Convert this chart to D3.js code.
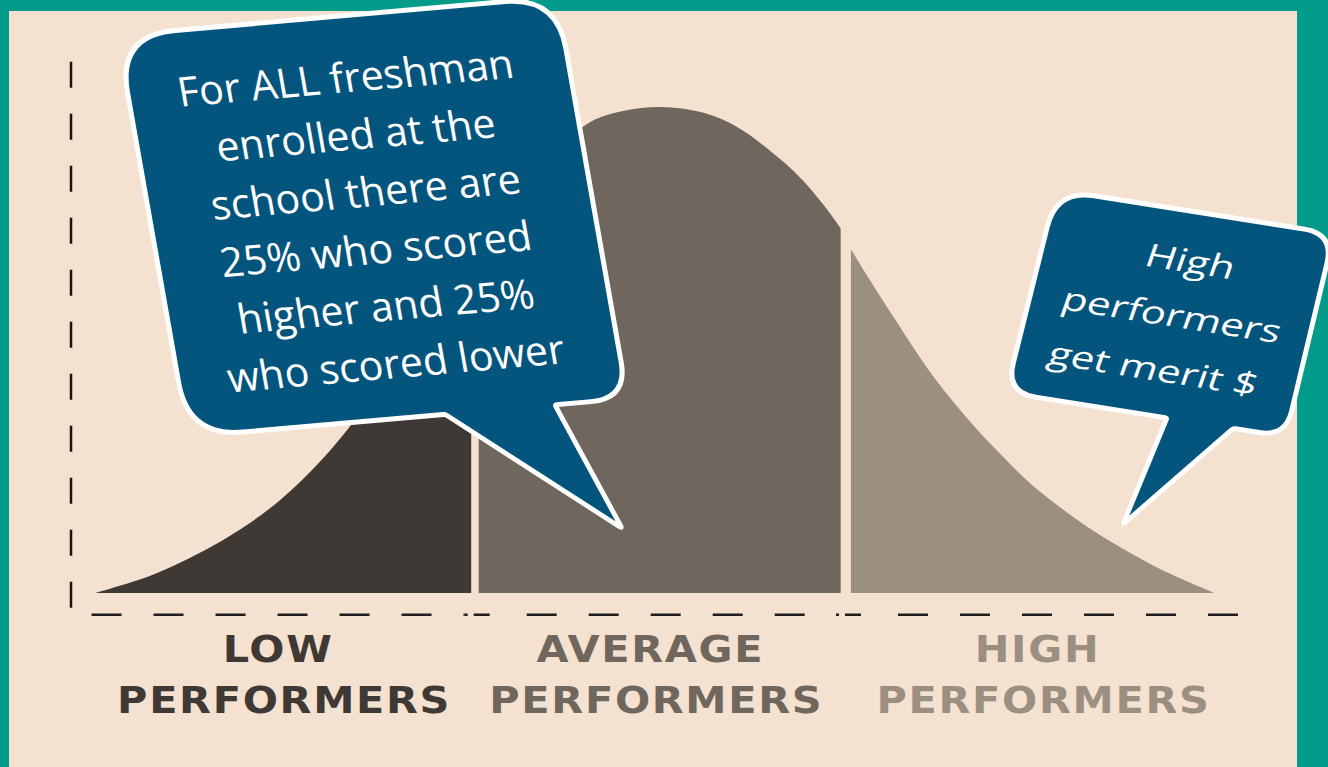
<!DOCTYPE html>
<html>
<head>
<meta charset="utf-8">
<script src="https://cdn.jsdelivr.net/npm/d3@7"></script>
<style>
  body { margin: 0; background: #029a89; }
  svg { display: block; }
</style>
</head>
<body>
<div id="chart"></div>
<script>
// bell curve: score (in std units) and relative height
const scoreZ  = [-3.0, -2.722, -2.546, -2.369, -2.187, -2.01, -1.833, -1.651, -1.42, -1.20, -0.98, -0.80, -0.55, -0.36, -0.19, 0.03,
                 0.26, 0.44, 0.61, 0.79, 0.99, 1.05, 1.29, 1.47, 1.65, 1.83, 2.01, 2.19, 2.37, 2.55, 2.72, 3.0];
const density = [0, 0.033, 0.062, 0.097, 0.140, 0.191, 0.255, 0.335, 0.46, 0.58, 0.70, 0.79, 0.90, 0.966, 0.99, 1.0,
                 0.988, 0.959, 0.912, 0.85, 0.753, 0.708, 0.561, 0.457, 0.37, 0.294, 0.226, 0.171, 0.123, 0.082, 0.047, 0];

// the three filled pieces
const segNames  = ['LOW', 'AVERAGE', 'HIGH'];
const segFrom   = [-3.0, -0.945, 1.05];
const segTo     = [-0.985, 0.995, 3.0];
const segColors = ['#3f3935', '#6f665d', '#9b8f82'];

// x axis bands and labels
const bandBreaks = [-3.02, -1.02, 0.97, 3.13];
const labelLine1 = ['LOW', 'AVERAGE', 'HIGH'];
const labelLine2 = ['PERFORMERS', 'PERFORMERS', 'PERFORMERS'];

const bubbleText1 = ['For ALL freshman', 'enrolled at the', 'school there are', '25% who scored', 'higher and 25%', 'who scored lower'];
const bubbleText2 = ['High', 'performers', 'get merit $'];

const W = 1328, H = 767;

const svg = d3.select('#chart').append('svg')
    .attr('width', W)
    .attr('height', H);

// beige panel
svg.append('rect')
    .attr('x', 9).attr('y', 11)
    .attr('width', 1288).attr('height', H - 11)
    .attr('fill', '#f4e1cf');

const x = d3.scaleLinear().domain([-3.13, 3.13]).range([71, 1239]);
const y = d3.scaleLinear().domain([0, 1]).range([593, 107]);

const pts = scoreZ.map((z, i) => ({ z: z, d: density[i] }));

const area = d3.area()
    .x(d => x(d.z))
    .y0(y(0))
    .y1(d => y(d.d))
    .curve(d3.curveCatmullRom.alpha(0.5));

const defs = svg.append('defs');

segNames.forEach((name, i) => {
    defs.append('clipPath')
        .attr('id', 'clip' + i)
        .append('rect')
        .attr('x', x(segFrom[i]))
        .attr('y', 0)
        .attr('width', x(segTo[i]) - x(segFrom[i]))
        .attr('height', y(0));

    svg.append('path')
        .datum(pts)
        .attr('clip-path', 'url(#clip' + i + ')')
        .attr('d', area)
        .attr('fill', segColors[i]);
});

// vertical dashed axis
svg.append('line')
    .attr('x1', x(-3.13)).attr('x2', x(-3.13))
    .attr('y1', y(1.093)).attr('y2', y(-0.031))
    .attr('stroke', '#151515')
    .attr('stroke-width', 2.5)
    .attr('stroke-dasharray', '26 26');

// horizontal dashed axis, one piece per band
const axisY = y(-0.045);
const restDash = d3.range(6).map(() => '30 32').join(' ');
for (let i = 0; i < 3; i++) {
    svg.append('line')
        .attr('x1', x(bandBreaks[i])).attr('x2', x(bandBreaks[i + 1]))
        .attr('y1', axisY).attr('y2', axisY)
        .attr('stroke', '#1e1e1e')
        .attr('stroke-width', 2.5)
        .attr('stroke-dasharray', i === 0 ? '30 32' : '3 6 16 37 ' + restDash);
}

// category labels
for (let i = 0; i < 3; i++) {
    const cx = (x(bandBreaks[i]) + x(bandBreaks[i + 1])) / 2;
    const g = svg.append('g')
        .attr('fill', segColors[i])
        .style('font-family', '"DejaVu Sans", sans-serif')
        .style('font-weight', 'bold')
        .style('font-size', '37px')
        .style('letter-spacing', '1.5px')
        .attr('text-anchor', 'middle');
    g.append('text')
        .attr('transform', `translate(${cx},662) scale(1.12,1)`)
        .text(labelLine1[i]);
    g.append('text')
        .attr('transform', `translate(${cx + 6},713) scale(1.12,1)`)
        .text(labelLine2[i]);
}

// rounded polygon: points are [x, y, radius]
function roundedPath(p) {
    const n = p.length;
    let d = '';
    p.forEach((c, i) => {
        const a = p[(i - 1 + n) % n], b = p[(i + 1) % n];
        const la = Math.hypot(a[0] - c[0], a[1] - c[1]);
        const lb = Math.hypot(b[0] - c[0], b[1] - c[1]);
        const r = Math.min(c[2], la / 2, lb / 2);
        const s = [c[0] + (a[0] - c[0]) / la * r, c[1] + (a[1] - c[1]) / la * r];
        const e = [c[0] + (b[0] - c[0]) / lb * r, c[1] + (b[1] - c[1]) / lb * r];
        d += (i === 0 ? 'M' : 'L') + s[0] + ',' + s[1];
        d += 'Q' + c[0] + ',' + c[1] + ' ' + e[0] + ',' + e[1];
    });
    return d + 'Z';
}

function bubble(cfg) {
    const g = svg.append('g')
        .attr('transform', `translate(${cfg.cx},${cfg.cy}) rotate(${cfg.rot}) skewX(${cfg.skew})`);
    g.append('path')
        .attr('d', roundedPath(cfg.shape))
        .attr('fill', '#04557e')
        .attr('stroke', '#ffffff')
        .attr('stroke-width', 5)
        .attr('stroke-linejoin', 'round');
    const t = g.append('g')
        .attr('transform', `scale(${cfg.sx},1) skewX(${cfg.slant})`)
        .attr('fill', '#ffffff')
        .attr('text-anchor', 'middle')
        .style('font-family', '"Open Sans", sans-serif')
        .style('font-size', cfg.fontSize + 'px');
    cfg.lines.forEach((line, i) => {
        t.append('text')
            .attr('x', cfg.tx / cfg.sx)
            .attr('y', cfg.ty + i * cfg.lh)
            .text(line);
    });
}

bubble({
    cx: 372, cy: 217, rot: -5, skew: 5,
    shape: [[-220, -203, 58], [221, -203, 52], [221, 203, 42], [148, 203, 2], [193, 332, 3], [38, 203, 2], [-220, 203, 55]],
    lines: bubbleText1, fontSize: 41, lh: 57.8, tx: -2, ty: -126.5, sx: 1, slant: 0
});

bubble({
    cx: 1169.5, cy: 313, rot: 9, skew: -5,
    shape: [[-140, -104, 38], [141, -104, 30], [143, 104, 30], [90, 104, 2], [6, 216, 3], [23, 104, 2], [-140, 104, 30]],
    lines: bubbleText2, fontSize: 32, lh: 56, tx: 3, ty: -43, sx: 1.3, slant: -4
});
</script>
</body>
</html>
